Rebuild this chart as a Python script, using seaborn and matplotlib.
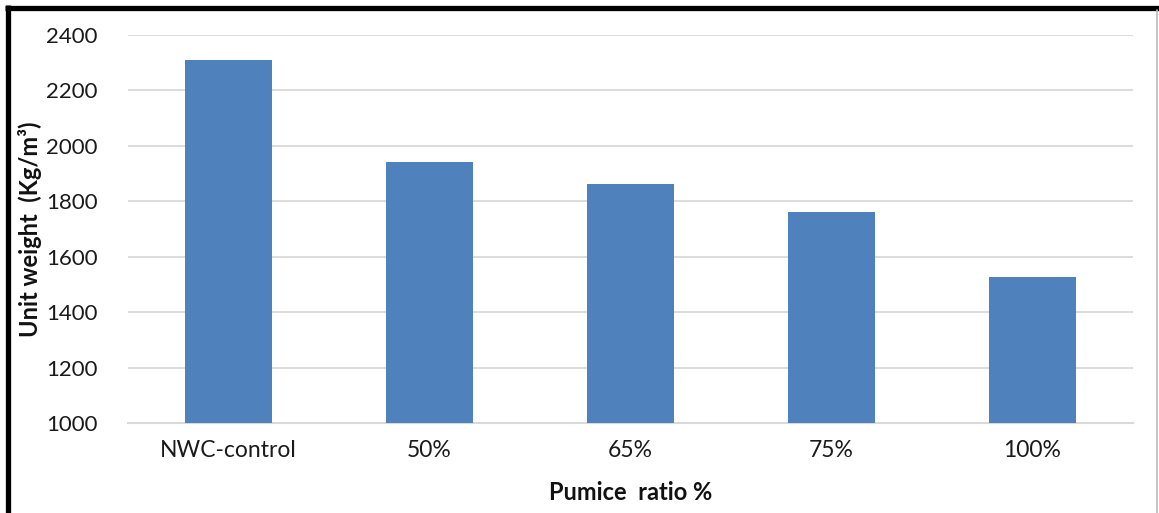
import matplotlib
matplotlib.use("Agg")
import matplotlib.pyplot as plt
import seaborn as sns
import pandas as pd
from matplotlib.lines import Line2D

categories = ["NWC-control", "50%", "65%", "75%", "100%"]
unit_weight = [2308, 1940, 1862, 1762, 1528]
y_ticks = [1000, 1200, 1400, 1600, 1800, 2000, 2200, 2400]

sns.set_theme(style="white")
plt.rcParams['font.family'] = ['Lato', 'DejaVu Sans']

df = pd.DataFrame({"cat": categories, "val": unit_weight})

fig = plt.figure(figsize=(11.59, 5.13), dpi=100)
ax = fig.add_axes([128/1159, 1-423/513, (1133-128)/1159, (423-35)/513])

sns.barplot(data=df, x="cat", y="val", ax=ax, color="#4F81BD", saturation=1,
            width=0.435, edgecolor="none", zorder=3)

ax.set_ylim(1000, 2400)
ax.set_yticks(y_ticks)
ax.set_yticklabels([str(t) for t in y_ticks], fontsize=16, color="#1a1a1a")
ax.set_xlim(-0.5, len(categories) - 0.5)
ax.tick_params(axis="x", labelsize=16.5, colors="#1a1a1a", pad=12, length=0)
ax.tick_params(axis="y", length=0, pad=22)
ax.yaxis.grid(True, color="#D9D9D9", linewidth=1.3, zorder=0)
ax.set_axisbelow(True)
for s in ["top", "right", "left"]:
    ax.spines[s].set_visible(False)
ax.spines["bottom"].set_color("#D9D9D9")
ax.spines["bottom"].set_linewidth(1.5)

ax.set_xlabel("Pumice  ratio %", fontsize=17, fontweight="bold", color="#111111")
ax.set_ylabel("Unit weight  (Kg/m³)", fontsize=17, fontweight="bold", color="#111111")
ax.xaxis.set_label_coords(0.5, -(493-423)/388, transform=ax.transAxes)
ax.xaxis.label.set_verticalalignment("center")
ax.yaxis.set_label_coords((30-128)/1005, 0.5, transform=ax.transAxes)
ax.yaxis.label.set_verticalalignment("center")

# figure frame
fig.add_artist(Line2D([7.5/1159, 7.5/1159], [0, 1-5/513], transform=fig.transFigure,
                      color="black", linewidth=3.8, solid_capstyle="butt"))
fig.add_artist(Line2D([5/1159, 1], [1-7.5/513, 1-7.5/513], transform=fig.transFigure,
                      color="black", linewidth=3.8, solid_capstyle="butt"))
fig.add_artist(Line2D([1157/1159, 1157/1159], [0, 1-10/513], transform=fig.transFigure,
                      color="#BBBBBB", linewidth=1.2))

fig.savefig("out.png", dpi=100, facecolor="white")
